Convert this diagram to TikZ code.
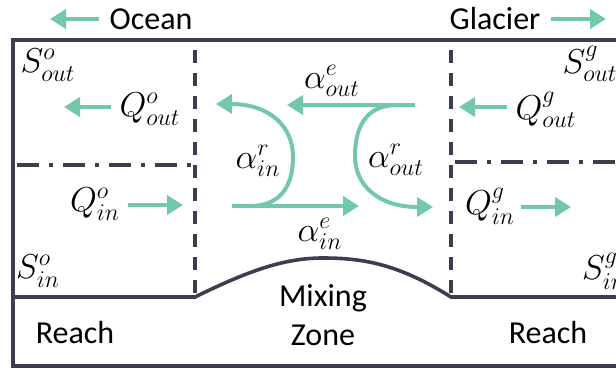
\documentclass[tikz,border=0pt]{standalone}
\usepackage{fontspec}
\setmainfont{Carlito}
\usepackage{amsmath}
\usepackage{tikz}
\usetikzlibrary{positioning}
\usetikzlibrary{arrows.meta}
\definecolor{flowgreen}{RGB}{114,201,170}
\definecolor{wallgray}{RGB}{60,64,78}
\tikzset{
    flow/.style={flowgreen, line width=2pt, -{Triangle[length=8pt,width=9.5pt]}},
    wall/.style={wallgray, line width=1.8pt},
    divider/.style={wallgray, line width=1.8pt, dash pattern=on 6.5pt off 5pt},
    layer/.style={wallgray, line width=1.8pt, dash pattern=on 11pt off 5pt on 2pt off 5pt},
    word/.style={inner sep=0pt, font=\fontsize{16}{19}\selectfont},
    sym/.style={inner sep=0pt, font=\fontsize{17}{20}\selectfont},
}

\begin{document}
\begin{tikzpicture}[x=0.5pt, y=0.5pt]
    \useasboundingbox (0,0) rectangle (616,370);

    % walls and bed
    \draw[wall] (616,330) -- (13,330) -- (13,4) -- (616,4);
    \coordinate (bedL) at (195,73);
    \coordinate (bedR) at (451,73);
    \draw[wall] (13,73) -- (bedL)
        .. controls (250,100) and (285,112) .. (323,112)
        .. controls (365,112) and (400,105) .. (bedR) -- (616,73);

    % reach boundaries
    \coordinate (topL) at (195,320);
    \coordinate (topR) at (451,320);
    \draw[divider] (topL) -- (bedL);
    \draw[divider] (topR) -- (bedR);
    \coordinate (lyrLa) at (17,205);
    \coordinate (lyrLb) at (192,205);
    \coordinate (lyrRa) at (455,208);
    \coordinate (lyrRb) at (616,208);
    \draw[layer] (lyrLa) -- (lyrLb);
    \draw[layer] (lyrRa) -- (lyrRb);

    % headings
    \node[word] (ocean) at (151,351) {Ocean};
    \node[word] (glacier) at (495,351) {Glacier};
    \coordinate (oceanTip) at (50,351);
    \coordinate (glacierTip) at (606,351);
    \draw[flow] ([xshift=-5pt]ocean.west) -- (oceanTip);
    \draw[flow] ([xshift=5pt]glacier.east) -- (glacierTip);

    % ocean reach
    \node[sym] (Sooo) at (48,305) {$S^{o}_{out}$};
    \node[sym] (Qooo) at (150,261) {$Q^{o}_{out}$};
    \coordinate (QoooTip) at (64,263);
    \draw[flow] ([xshift=-4pt]Qooo.west |- QoooTip) -- (QoooTip);
    \node[sym] (Qoi) at (95,166) {$Q^{o}_{in}$};
    \coordinate (QoiTip) at (183,165);
    \draw[flow] ([xshift=4pt]Qoi.east |- QoiTip) -- (QoiTip);
    \node[sym] (Soi) at (38,99) {$S^{o}_{in}$};
    \node[word] (reachL) at (75,37) {Reach};

    % mixing zone
    \node[sym] (aeo) at (332,289) {$\alpha^{e}_{out}$};
    \coordinate (aeoA) at (415,265);
    \coordinate (aeoB) at (287,265);
    \draw[flow] (aeoA) -- (aeoB);
    \coordinate (aeiA) at (232,164);
    \coordinate (aeiB) at (359,164);
    \draw[flow] (aeiA) -- (aeiB);
    \node[sym] (aei) at (320,136) {$\alpha^{e}_{in}$};
    \coordinate (ariA) at (250,164);
    \coordinate (ariB) at (216,266);
    \draw[flowgreen, line width=2pt, -{Triangle[length=8pt,width=9.5pt]}]
        (ariA) .. controls (285,164) and (293,190) .. (293,213)
        .. controls (293,245) and (268,266) .. (ariB);
    \node[sym] (ari) at (258,209) {$\alpha^{r}_{in}$};
    \coordinate (aroA) at (397,265);
    \coordinate (aroB) at (433,163);
    \draw[flowgreen, line width=2pt, -{Triangle[length=8pt,width=9.5pt]}]
        (aroA) .. controls (364,265) and (355,240) .. (355,214)
        .. controls (355,185) and (378,163) .. (aroB);
    \node[sym] (aro) at (396,210) {$\alpha^{r}_{out}$};
    \node[word] (mixing) at (323,72) {Mixing};
    \node[word] (zone) at (323,35) {Zone};

    % glacier reach
    \node[sym] (Sgo) at (590,306) {$S^{g}_{out}$};
    \node[sym] (Qgo) at (546,260) {$Q^{g}_{out}$};
    \coordinate (QgoTip) at (459,263);
    \draw[flow] ([xshift=-4pt]Qgo.west |- QgoTip) -- (QgoTip);
    \node[sym] (Qgi) at (490,164) {$Q^{g}_{in}$};
    \coordinate (QgiTail) at (521,163);
    \coordinate (QgiTip) at (571,163);
    \draw[flow] (QgiTail) -- (QgiTip);
    \node[sym] (Sgi) at (604,99) {$S^{g}_{in}$};
    \node[word] (reachR) at (548,37) {Reach};
\end{tikzpicture}
\end{document}
